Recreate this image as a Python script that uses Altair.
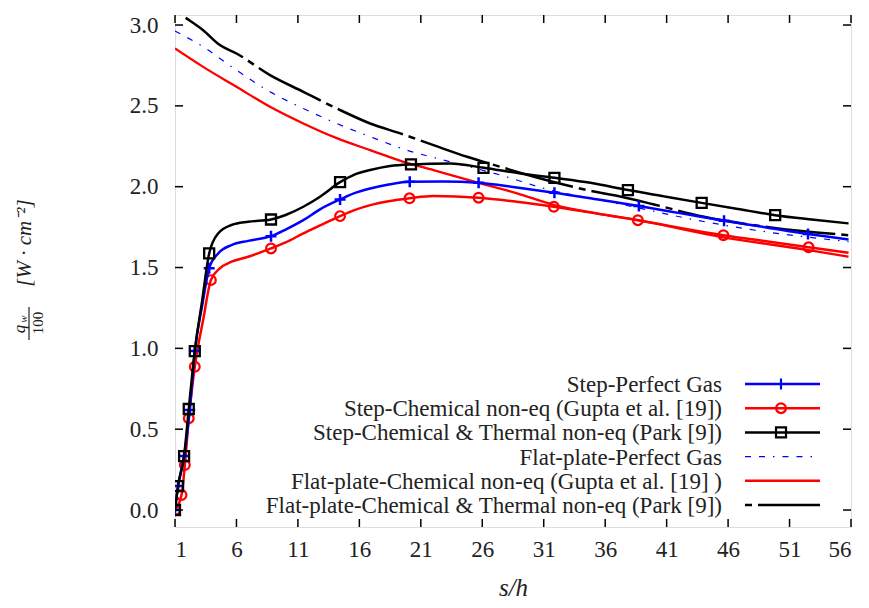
import altair as alt
import pandas as pd

# ---------------- data ----------------
x_ticks = [1, 6, 11, 16, 21, 26, 31, 36, 41, 46, 51, 56]
y_ticks = [0.0, 0.5, 1.0, 1.5, 2.0, 2.5, 3.0]

# Step - Chemical & Thermal non-eq (Park [9])
step_park_x = [1.0, 1.25, 1.74, 2.12, 2.61, 3.2, 3.78, 4.51, 5.6, 6.96, 8.81, 10.0, 11.44, 12.8, 14.43,
               15.6, 16.88, 18.5, 20.2, 23.4, 26.1, 29.1, 31.87, 34.8, 37.85, 40.8, 43.85, 46.8, 49.83,
               52.8, 55.8]
step_park_y = [0.0, 0.148, 0.334, 0.625, 0.983, 1.29, 1.587, 1.711, 1.763, 1.783, 1.797, 1.825, 1.876,
               1.938, 2.028, 2.075, 2.103, 2.128, 2.138, 2.144, 2.117, 2.082, 2.055, 2.024, 1.979, 1.94,
               1.90, 1.862, 1.824, 1.797, 1.773]
step_park_mx = [1.0, 1.25, 1.74, 2.12, 2.61, 3.78, 8.81, 14.43, 20.2, 26.1, 31.87, 37.85, 43.85, 49.83]
step_park_my = [0.0, 0.148, 0.334, 0.625, 0.983, 1.587, 1.797, 2.028, 2.138, 2.117, 2.055, 1.979, 1.90, 1.824]

# Step - Perfect Gas
step_pg_x = [1.0, 1.25, 1.74, 2.2, 2.61, 3.2, 3.78, 4.51, 5.6, 6.96, 8.81, 10.0, 11.44, 12.8, 14.43,
             15.6, 16.88, 18.5, 20.1, 22.8, 25.7, 28.8, 31.87, 35.3, 38.74, 42.2, 45.67, 49.1, 52.5, 55.8]
step_pg_y = [0.0, 0.148, 0.334, 0.618, 0.983, 1.26, 1.495, 1.587, 1.639, 1.665, 1.694, 1.735, 1.793,
             1.86, 1.921, 1.96, 1.989, 2.015, 2.03, 2.032, 2.024, 1.995, 1.963, 1.922, 1.88, 1.835,
             1.789, 1.748, 1.707, 1.674]
step_pg_mx = [1.0, 1.25, 1.74, 2.2, 2.61, 3.78, 8.81, 14.43, 20.1, 25.7, 31.87, 38.74, 45.67, 52.5]
step_pg_my = [0.0, 0.148, 0.334, 0.618, 0.983, 1.495, 1.694, 1.921, 2.03, 2.024, 1.963, 1.88, 1.789, 1.707]

# Step - Chemical non-eq (Gupta et al. [19])
step_gu_x = [1.0, 1.53, 1.8, 2.12, 2.61, 3.3, 3.92, 4.65, 5.6, 6.96, 8.81, 10.0, 11.44, 12.8, 14.43,
             15.6, 16.88, 18.5, 20.08, 22.0, 25.7, 28.8, 31.82, 35.2, 38.66, 42.1, 45.62, 49.1, 52.55, 55.8]
step_gu_y = [0.0, 0.093, 0.278, 0.567, 0.886, 1.18, 1.422, 1.495, 1.536, 1.567, 1.618, 1.655, 1.711,
             1.76, 1.818, 1.855, 1.886, 1.912, 1.928, 1.942, 1.932, 1.907, 1.876, 1.835, 1.793, 1.745,
             1.70, 1.662, 1.625, 1.591]
step_gu_mx = [1.0, 1.53, 1.8, 2.12, 2.61, 3.92, 8.81, 14.43, 20.08, 25.7, 31.82, 38.66, 45.62, 52.55]
step_gu_my = [0.0, 0.093, 0.278, 0.567, 0.886, 1.422, 1.618, 1.818, 1.928, 1.932, 1.876, 1.793, 1.70, 1.625]

# Flat-plate - Chemical & Thermal non-eq (Park [9])
flat_park_x = [1.0, 1.66, 3.29, 4.65, 6.0, 8.73, 11.44, 14.16, 16.88, 19.32, 22.03, 24.76, 27.47,
               30.73, 34.54, 37.3, 39.97, 44.04, 49.47, 55.8]
flat_park_y = [3.09, 3.055, 2.968, 2.876, 2.824, 2.69, 2.587, 2.484, 2.391, 2.33, 2.257, 2.185, 2.123,
               2.051, 1.979, 1.938, 1.89, 1.814, 1.748, 1.70]

# Flat-plate - Perfect Gas
flat_pg_x = [1.0, 3.29, 6.0, 8.73, 11.44, 14.16, 16.88, 19.87, 23.4, 27.47, 31.55, 35.62, 38.88,
             42.69, 48.1, 55.8]
flat_pg_y = [2.963, 2.865, 2.721, 2.587, 2.484, 2.391, 2.309, 2.226, 2.154, 2.072, 1.979, 1.917,
             1.866, 1.804, 1.732, 1.66]

# Flat-plate - Chemical non-eq (Gupta et al. [19])
flat_gu_x = [1.0, 3.29, 6.0, 8.73, 11.44, 14.16, 16.88, 19.59, 22.03, 25.7, 28.83, 31.87, 35.62,
             38.66, 45.4, 52.55, 55.8]
flat_gu_y = [2.855, 2.741, 2.618, 2.494, 2.391, 2.30, 2.226, 2.154, 2.103, 2.024, 1.959, 1.886,
             1.831, 1.793, 1.69, 1.608, 1.567]

legend_labels = [
    "Step-Perfect Gas",
    "Step-Chemical non-eq (Gupta et al. [19])",
    "Step-Chemical & Thermal non-eq (Park [9])",
    "Flat-plate-Perfect Gas",
    "Flat-plate-Chemical non-eq (Gupta et al. [19] )",
    "Flat-plate-Chemical & Thermal non-eq (Park [9])",
]

# ---------------- styling ----------------
W, H = 676, 512
FONT = "Liberation Serif"
TXT = "#222222"
BLUE, RED, BLACK = "#0000ff", "#ff0000", "#000000"
PLUS = "M-1,0L1,0M0,-1L0,1"
DASH_PARK = [7, 6, 70, 6]
DASH_PG = [6, 8, 6, 8, 1.5, 8]

xs = alt.Scale(domain=[1, 56], nice=False, zero=False)
ys = alt.Scale(domain=[-0.105, 3.062], nice=False, zero=False)

x_axis = alt.Axis(values=x_ticks, tickSize=0, domain=False, grid=False, labelFont=FONT,
                  labelFontSize=23, labelColor=TXT, labelPadding=11,
                  title="s/h", titleFont=FONT, titleFontStyle="italic", titleFontWeight="normal",
                  titleFontSize=25, titleColor=TXT, titlePadding=14)
y_axis = alt.Axis(values=y_ticks, format=".1f", tickSize=0, domain=False, grid=False,
                  labelFont=FONT, labelFontSize=23, labelColor=TXT, labelPadding=17)


def df(x, y):
    return pd.DataFrame({"x": x, "y": y})


def line(x, y, color, width, dash=None):
    kw = dict(color=color, strokeWidth=width, clip=True, interpolate="monotone")
    if dash:
        kw["strokeDash"] = dash
    return alt.Chart(df(x, y)).mark_line(**kw).encode(
        x=alt.X("x:Q", scale=xs, axis=x_axis, title="s/h"),
        y=alt.Y("y:Q", scale=ys, axis=y_axis, title=None),
    )


def marks(x, y, color, shape, size, width):
    return alt.Chart(df(x, y)).mark_point(shape=shape, filled=False, color=color, size=size,
                                           strokeWidth=width, opacity=1, clip=True).encode(
        x=alt.X("x:Q", scale=xs), y=alt.Y("y:Q", scale=ys))


layers = [
    line(flat_pg_x, flat_pg_y, BLUE, 1.2, DASH_PG),
    line(flat_gu_x, flat_gu_y, RED, 2.3),
    line(flat_park_x, flat_park_y, BLACK, 2.5, DASH_PARK),
    line(step_gu_x, step_gu_y, RED, 2.5),
    marks(step_gu_mx, step_gu_my, RED, "circle", 95, 2.2),
    line(step_pg_x, step_pg_y, BLUE, 2.5),
    marks(step_pg_mx, step_pg_my, BLUE, PLUS, 120, 2.5),
    line(step_park_x, step_park_y, BLACK, 2.5),
    marks(step_park_mx, step_park_my, BLACK, "square", 100, 2.3),
]

# inward ticks on all four sides
xt = pd.DataFrame({"t": x_ticks})
yt = pd.DataFrame({"t": y_ticks})
TL = 8
layers += [
    alt.Chart(xt).mark_rule(color=BLACK, strokeWidth=1.5).encode(
        x=alt.X("t:Q", scale=xs), y=alt.value(H), y2=alt.value(H - TL)),
    alt.Chart(xt).mark_rule(color=BLACK, strokeWidth=1.5).encode(
        x=alt.X("t:Q", scale=xs), y=alt.value(0), y2=alt.value(TL)),
    alt.Chart(yt).mark_rule(color=BLACK, strokeWidth=1.5).encode(
        y=alt.Y("t:Q", scale=ys), x=alt.value(0), x2=alt.value(TL)),
    alt.Chart(yt).mark_rule(color=BLACK, strokeWidth=1.5).encode(
        y=alt.Y("t:Q", scale=ys), x=alt.value(W), x2=alt.value(W - TL)),
]

# custom legend (bottom right, text right aligned, sample to the right)
leg_style = [
    (BLUE, 2.5, None, PLUS, 120),
    (RED, 2.5, None, "circle", 95),
    (BLACK, 2.5, None, "square", 100),
    (BLUE, 1.2, DASH_PG, None, 0),
    (RED, 2.5, None, None, 0),
    (BLACK, 2.5, DASH_PARK, None, 0),
]
row_y0, row_dy = 369, 24.2
for i, (lab, (col, sw, dash, shape, size)) in enumerate(zip(legend_labels, leg_style)):
    yy = row_y0 + i * row_dy
    d1 = pd.DataFrame({"label": [lab]})
    layers.append(alt.Chart(d1).mark_text(align="right", baseline="middle", font=FONT,
                                          fontSize=23, color=TXT).encode(
        x=alt.value(547), y=alt.value(yy + 1), text="label:N"))
    rkw = dict(color=col, strokeWidth=sw)
    if dash:
        rkw["strokeDash"] = dash
    layers.append(alt.Chart(d1).mark_rule(**rkw).encode(
        x=alt.value(570), x2=alt.value(645), y=alt.value(yy)))
    if shape:
        layers.append(alt.Chart(d1).mark_point(shape=shape, filled=False, color=col, size=size,
                                               strokeWidth=2.2, opacity=1).encode(
            x=alt.value(606), y=alt.value(yy)))

# y-axis title: q_w / 100 [W · cm^-2]
ttl = pd.DataFrame({"a": ["[W · cm⁻²]"], "q": ["q"], "w": ["w"], "n": ["100"]})
layers += [
    alt.Chart(ttl).mark_text(angle=270, font=FONT, fontStyle="italic", fontSize=21,
                             color=TXT, align="center", baseline="middle").encode(
        x=alt.value(-150), y=alt.value(228), text="a:N"),
    alt.Chart(ttl).mark_text(angle=270, font=FONT, fontStyle="italic", fontSize=17,
                             color=TXT, align="center", baseline="middle").encode(
        x=alt.value(-155), y=alt.value(314), text="q:N"),
    alt.Chart(ttl).mark_text(angle=270, font=FONT, fontStyle="italic", fontSize=11,
                             color=TXT, align="center", baseline="middle").encode(
        x=alt.value(-151), y=alt.value(304), text="w:N"),
    alt.Chart(ttl).mark_rule(color=TXT, strokeWidth=1.2).encode(
        x=alt.value(-146), y=alt.value(292), y2=alt.value(325)),
    alt.Chart(ttl).mark_text(angle=270, font=FONT, fontSize=15,
                             color=TXT, align="center", baseline="middle").encode(
        x=alt.value(-137), y=alt.value(308), text="n:N"),
]

chart = alt.layer(*layers).properties(
    width=W, height=H,
    autosize=alt.AutoSizeParams(type="none"),
    padding={"left": 175, "top": 15, "right": 18, "bottom": 81},
).configure_view(stroke=BLACK, strokeWidth=2).configure(background="white")

chart.save("out.html", embed_options={"renderer": "svg", "actions": False})
